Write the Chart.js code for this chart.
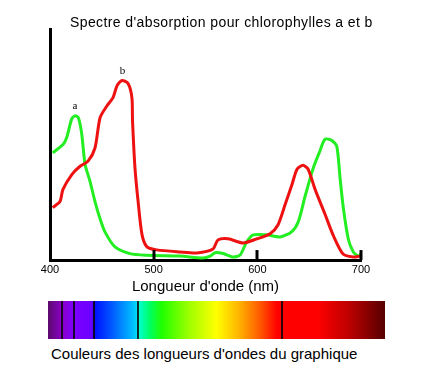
<!DOCTYPE html>
<html>
<head>
<meta charset="utf-8">
<script src="https://cdn.jsdelivr.net/npm/chart.js@4.4.0/dist/chart.umd.min.js"></script>
<style>
  body { margin: 0; background: #fff; width: 429px; height: 366px; position: relative; overflow: hidden; font-family: "Liberation Sans", Arial, sans-serif; }
  #wrap { position: absolute; left: 0; top: 0; width: 429px; height: 295px; }
  #titre { position: absolute; left: 70px; top: 13px; font-size: 14px; line-height: 18px; letter-spacing: 0.4px; color: #000; white-space: nowrap; }
  #spectre {
    position: absolute; left: 48px; top: 301px; width: 337px; height: 38px;
    background: linear-gradient(to right,
      #5c0a6e 0%, #8a00c8 4.2%, #7d00ff 7.7%, #6a00ff 13%, #0010ff 13.9%,
      #0050ff 18.4%, #00c8ff 25.8%, #00ffd0 27%, #00ff60 30.3%, #20ff00 33.8%,
      #a0ff00 42%, #ffff00 50%, #ffb000 57%, #ff5000 63.5%, #ff0000 68%,
      #ff0000 80%, #bb0000 89.6%, #550000 100%);
  }
  .raie { position: absolute; top: 0; width: 2px; height: 100%; background: rgba(10, 5, 15, 0.85); }
  #legende { position: absolute; left: 51px; top: 345px; font-size: 15px; line-height: 18px; color: #000; white-space: nowrap; }
</style>
</head>
<body>
<div id="wrap"><canvas id="chart"></canvas></div>
<div id="titre">Spectre d'absorption pour chlorophylles a et b</div>
<div id="spectre"></div>
<div id="legende">Couleurs des longueurs d'ondes du graphique</div>
<script>
// chlorophylle a (vert)
const lambdaA = [402.6, 412.8, 416.1, 420.9, 424.1, 427.3, 430.6, 433.8, 438.6, 443.4, 448.2, 453, 462.7, 477.2, 493.3, 525.4, 547.6, 554.4, 559.2, 567, 576.6, 583.4, 589.8, 596, 609, 622, 633, 639.5, 646, 654, 660.4, 665.3, 671.7, 676.6, 679.8, 683, 687.8, 692.6, 697.4, 700];
const absA = [46.4, 50.1, 53, 61, 62.4, 61.7, 54.6, 41.5, 34.1, 25.3, 18, 12.2, 5.7, 2.8, 2.1, 1.7, 0.9, 1.7, 3.2, 2.8, 1.3, 2.2, 7.9, 10.9, 10.9, 10, 12.2, 16.6, 27.5, 39.9, 47.2, 52.3, 51.8, 49.3, 35.5, 22.4, 9, 3.5, 1.7, 2.8];

// chlorophylle b (rouge)
const lambdaB = [402.6, 409.6, 412.5, 421.2, 429, 436.7, 443.4, 448.3, 455, 460.8, 464.7, 469.5, 475.3, 479, 479.6, 482, 485, 488.8, 493.6, 503, 525.4, 541.8, 557.3, 562, 571.8, 586.2, 599.7, 612.3, 620, 626.8, 633.5, 638.3, 644, 649, 655.7, 665.4, 673, 682.7, 692.4, 699];
const absB = [22.7, 25.3, 30.6, 37.1, 40.6, 42.8, 48.5, 61.6, 66.8, 70.3, 75.5, 77.7, 76.4, 70.3, 60.3, 39.7, 25.3, 10.9, 5.7, 4.4, 3.5, 3.1, 4.8, 8.7, 9.2, 7.4, 9.2, 11.4, 15.3, 24, 32.8, 39.3, 41, 39.3, 30.6, 19.7, 10.9, 2.6, 1.3, 1.7];

const xTicks = [400, 500, 600, 700];
const peakLabels = ['a', 'b'];
const peakPos = [[424, 62.4], [470, 77.7]];

// repères noirs dans le spectre (px depuis le bord gauche de la barre)
const raies = [13, 25, 45, 89, 233];
const spectre = document.getElementById('spectre');
raies.forEach(function (px) {
  const d = document.createElement('div');
  d.className = 'raie';
  d.style.left = px + 'px';
  spectre.appendChild(d);
});

const extras = {
  id: 'extras',
  afterDatasetsDraw(chart) {
    const ctx = chart.ctx;
    const xs = chart.scales.x, ys = chart.scales.y;
    ctx.save();
    // petites graduations vers l'intérieur
    ctx.strokeStyle = '#000';
    ctx.lineWidth = 3;
    xTicks.slice(1).forEach(function (v) {
      const px = Math.round(xs.getPixelForValue(v));
      ctx.beginPath();
      ctx.moveTo(px, ys.bottom);
      ctx.lineTo(px, ys.bottom - 10);
      ctx.stroke();
    });
    // lettres au-dessus des pics
    ctx.fillStyle = '#000';
    ctx.font = '11px "Liberation Serif", serif';
    ctx.textAlign = 'center';
    ctx.textBaseline = 'bottom';
    peakLabels.forEach(function (t, i) {
      ctx.fillText(t, xs.getPixelForValue(peakPos[i][0]), ys.getPixelForValue(peakPos[i][1]) - 4);
    });
    ctx.restore();
  }
};

new Chart(document.getElementById('chart'), {
  type: 'line',
  data: {
    datasets: [
      {
        label: 'b',
        data: lambdaB.map(function (l, i) { return { x: l, y: absB[i] }; }),
        borderColor: '#ee1111',
        borderWidth: 3,
        pointRadius: 0,
        tension: 0.25,
        fill: false
      },
      {
        label: 'a',
        data: lambdaA.map(function (l, i) { return { x: l, y: absA[i] }; }),
        borderColor: '#22ee22',
        borderWidth: 3,
        pointRadius: 0,
        tension: 0.25,
        fill: false
      }
    ]
  },
  options: {
    responsive: true,
    maintainAspectRatio: false,
    animation: false,
    layout: { padding: { left: 50, right: 68, bottom: 1, top: 29 } },
    plugins: {
      legend: { display: false },
      tooltip: { enabled: false },
      title: { display: false }
    },
    scales: {
      x: {
        type: 'linear',
        min: 400,
        max: 700,
        afterBuildTicks: function (s) { s.ticks = xTicks.map(function (v) { return { value: v }; }); },
        grid: { display: false, drawTicks: false },
        border: { display: true, color: '#000', width: 3 },
        ticks: { color: '#000', padding: 7, font: { family: '"Liberation Sans", Arial, sans-serif', size: 11, lineHeight: 0.45 } },
        title: {
          display: true,
          text: "Longueur d'onde (nm)",
          color: '#000',
          padding: { top: 0, bottom: 0 },
          font: { family: '"Liberation Sans", Arial, sans-serif', size: 15, lineHeight: 1 }
        }
      },
      y: {
        min: 0,
        max: 100,
        grid: { display: false, drawTicks: false },
        border: { display: true, color: '#000', width: 3 },
        ticks: { display: false }
      }
    }
  },
  plugins: [extras]
});
</script>
</body>
</html>
